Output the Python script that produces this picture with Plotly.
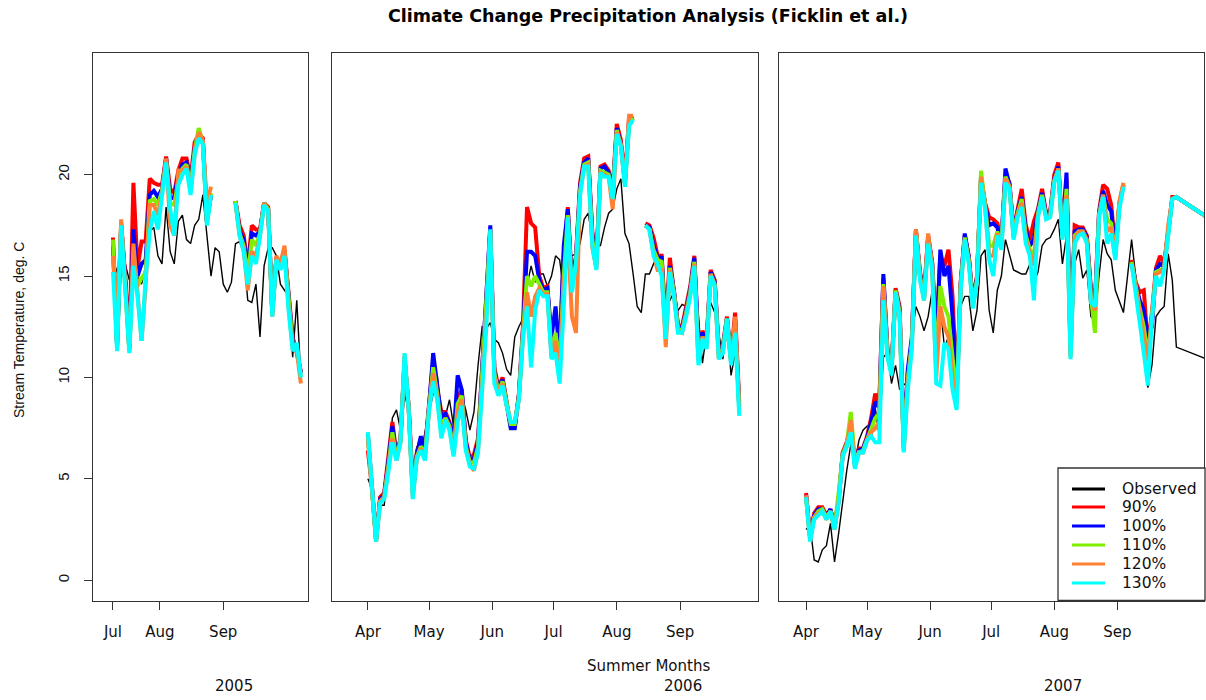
import pandas as pd
import plotly.graph_objects as go

# ---------------- data (2-day steps) ----------------
series_names = ["Observed", "90%", "100%", "110%", "120%", "130%"]
series_colors = ["#000000", "#FF0000", "#0000FF", "#7FEE00", "#FF8033", "#00FFFF"]

start_2005 = "2005-07-09"
start_2006 = "2006-04-01"
start_2007 = "2007-04-01"
tail_date_2007 = "2007-11-07"

obs_2005 = [15.8, 15.2, 15.0, 15.6, 14.8, 15.3, 15.0, 14.6, 15.5, 17.2, 17.4, 16.0, 15.6, 18.4, 16.2, 15.6,
            17.7, 18.0, 16.8, 16.6, 17.5, 17.8, 19.0, 17.1, 15.0, 16.4, 16.2, 14.6, 14.2, 14.7, 16.6, 16.7,
            16.1, 13.8, 13.7, 14.6, 12.0, 15.5, 16.4, 16.4, 16.0, 14.6, 14.3, 14.0, 11.0, 13.8, 10.0]
p90_2005 = [16.9, 11.6, 17.6, 15.0, 11.5, 19.6, 15.4, 16.7, 16.7, 19.8, 19.6, 19.5, 19.5, 20.9, 19.3, 19.1,
            20.2, 20.8, 20.8, 19.8, 21.6, 22.0, 21.8, 17.8, 19.0, None, None, None, None, None, 18.7, 17.5,
            17.0, 15.4, 17.5, 17.3, 17.3, 18.6, 18.4, 13.2, 15.9, 15.6, 16.3, 13.9, 12.0, 11.2, 10.3]
p100_2005 = [16.5, 11.5, 17.5, 14.8, 11.4, 17.3, 15.0, 15.6, 15.8, 19.0, 19.2, 18.9, 19.3, 20.8, 18.8, 18.9,
             20.0, 20.5, 20.6, 19.5, 21.3, 22.0, 21.7, 17.7, 19.0, None, None, None, None, None, 18.7, 17.2,
             16.8, 15.2, 17.1, 17.0, 17.2, 18.6, 18.3, 13.2, 15.9, 15.5, 16.2, 14.0, 11.8, 11.4, 10.2]
p110_2005 = [16.8, 11.5, 17.5, 14.7, 11.3, 16.0, 14.5, 14.9, 15.2, 18.7, 18.8, 18.5, 19.2, 20.7, 18.6, 18.5,
             19.8, 20.3, 20.5, 19.4, 21.2, 22.3, 21.6, 17.6, 19.1, None, None, None, None, None, 18.7, 17.1,
             16.5, 15.0, 16.8, 16.5, 17.1, 18.6, 18.3, 13.1, 15.8, 15.4, 16.2, 14.0, 11.6, 11.5, 10.1]
p120_2005 = [16.0, 12.5, 17.8, 14.6, 11.3, 16.6, 14.2, 11.8, 14.6, 18.5, 18.5, 18.0, 19.1, 20.8, 17.5, 17.0,
             20.2, 20.2, 20.4, 19.2, 21.0, 22.1, 21.7, 18.6, 19.4, None, None, None, None, None, 18.6, 17.0,
             16.3, 14.3, 16.2, 16.0, 17.0, 18.6, 18.2, 13.0, 16.0, 15.6, 16.5, 13.5, 11.4, 11.3, 9.7]
p130_2005 = [15.2, 11.3, 17.5, 14.5, 11.2, 15.5, 14.0, 11.8, 14.9, 17.2, 18.2, 17.3, 19.0, 20.6, 18.3, 17.0,
             19.5, 20.0, 20.3, 19.0, 21.0, 21.8, 21.5, 17.5, 19.0, None, None, None, None, None, 18.6, 17.0,
             16.2, 14.6, 16.0, 15.6, 17.0, 18.5, 18.2, 13.0, 15.8, 15.3, 16.0, 13.3, 11.3, 11.7, 10.0]

obs_2006 = [5.0, 4.5, 2.3, 3.7, 3.7, 5.6, 8.0, 8.4, 7.4, 9.2, 8.3, 5.3, 6.6, 6.3, 7.3, 8.3, 9.2, 10.1, 8.1, 8.1,
            8.9, 7.6, 8.1, 9.1, 8.4, 7.4, 8.3, 10.6, 12.5, 12.4, 12.7, 11.9, 11.7, 11.2, 10.4, 10.1, 12.0, 12.5,
            12.9, 14.5, 15.5, 14.7, 15.1, 15.1, 14.5, 15.0, 16.0, 15.8, 14.2, 16.1, 16.0, 16.1, 16.6, 17.8, 18.1,
            16.8, 16.5, 16.5, 17.4, 18.1, 18.3, 19.3, 19.8, 17.1, 16.6, 15.1, 13.5, 13.2, 15.1, 15.1, 15.6, 16.0,
            14.8, 13.7, 13.8, 14.2, 13.3, 13.6, 13.5, 14.3, 14.7, 13.0, 10.7, 12.2, 13.7, 13.2, 12.2, 10.9, 12.7,
            10.1, 11.2, 9.1]
p90_2006 = [6.4, 4.6, 2.0, 4.1, 4.3, 6.0, 7.8, 6.2, 7.0, 10.8, 8.6, 4.8, 6.3, 7.0, 6.5, 8.7, 10.8, 9.4, 8.3, 8.3,
            7.8, 6.8, 9.0, 9.4, 6.9, 6.0, 6.2, 7.0, 10.5, 14.5, 17.3, 10.5, 9.5, 10.0, 8.9, 7.6, 7.6, 9.2, 12.5,
            18.4, 17.6, 17.4, 15.0, 14.4, 14.5, 11.4, 12.0, 11.5, 16.0, 18.4, 14.6, 16.0, 19.6, 20.8, 20.9, 17.2,
            15.8, 20.4, 20.5, 20.2, 19.3, 22.5, 21.7, 19.8, 22.8, 22.9, None, None, 17.6, 17.5, 16.9, 16.0, 16.0,
            12.5, 15.9, 14.4, 12.6, 12.5, 13.4, 14.5, 16.0, 11.3, 12.3, 11.8, 15.3, 14.8, 11.3, 11.6, 13.0, 11.0,
            13.2, 8.8]
p100_2006 = [7.2, 4.6, 2.0, 4.0, 4.2, 5.8, 7.6, 6.1, 6.9, 10.9, 8.5, 4.4, 6.2, 7.1, 6.4, 8.6, 11.2, 9.6, 8.0, 8.2,
             7.7, 7.0, 10.1, 9.4, 6.8, 5.9, 6.0, 6.8, 10.2, 13.6, 17.5, 10.3, 9.4, 9.9, 8.8, 7.5, 7.5, 9.1, 12.3,
             16.2, 16.2, 16.0, 14.8, 14.3, 14.4, 12.0, 13.5, 11.0, 16.5, 18.3, 14.5, 15.9, 19.4, 20.6, 20.8, 17.0,
             15.6, 20.3, 20.4, 20.1, 19.1, 22.3, 21.5, 19.6, 22.6, 22.8, None, None, 17.5, 17.4, 16.5, 15.9, 15.9,
             12.3, 15.5, 14.3, 12.5, 12.4, 13.3, 14.3, 15.9, 11.8, 12.2, 11.7, 15.2, 14.7, 11.2, 11.5, 12.9, 10.9,
             12.8, 8.6]
p110_2006 = [7.1, 4.5, 1.9, 3.9, 4.1, 5.6, 7.3, 6.0, 6.9, 11.0, 8.5, 4.2, 6.1, 6.6, 6.2, 8.5, 10.5, 9.2, 7.5, 8.0,
             7.6, 6.4, 8.7, 9.1, 6.6, 5.8, 5.8, 6.6, 10.0, 13.0, 17.2, 10.2, 9.3, 9.8, 8.7, 7.7, 7.7, 9.0, 12.2,
             15.0, 14.5, 15.0, 14.6, 14.2, 14.2, 11.2, 12.2, 10.5, 15.0, 18.0, 14.3, 15.7, 19.2, 20.5, 20.6, 16.8,
             15.5, 20.2, 20.1, 20.0, 19.0, 22.2, 21.4, 19.5, 22.5, 22.8, None, None, 17.5, 17.3, 16.3, 15.8, 15.7,
             12.0, 15.4, 14.2, 12.4, 12.3, 13.2, 14.2, 15.7, 11.0, 12.0, 11.6, 15.1, 14.6, 11.0, 11.4, 12.9, 10.8,
             12.6, 8.5]
p120_2006 = [7.0, 4.5, 1.9, 3.9, 4.1, 5.5, 7.0, 5.9, 6.8, 11.1, 8.4, 4.1, 6.0, 6.5, 6.0, 8.4, 10.2, 9.0, 7.2, 7.9,
             7.5, 6.2, 8.3, 8.9, 6.5, 5.7, 5.4, 6.4, 9.8, 12.8, 17.2, 10.0, 9.2, 9.7, 8.6, 7.8, 7.8, 8.9, 12.0,
             14.2, 13.0, 14.0, 14.4, 14.1, 14.1, 11.0, 11.8, 10.3, 14.5, 17.0, 13.0, 12.2, 19.1, 20.4, 20.5, 16.4,
             15.4, 20.1, 20.0, 19.9, 18.3, 22.1, 21.5, 19.5, 22.9, 22.9, None, None, 17.5, 17.3, 16.1, 15.3, 15.3,
             11.5, 15.3, 14.1, 12.3, 12.2, 13.1, 14.1, 15.6, 10.8, 12.0, 11.5, 15.1, 14.5, 10.9, 11.3, 12.7, 10.7,
             13.0, 8.4]
p130_2006 = [7.3, 4.5, 1.9, 3.8, 4.0, 5.3, 6.8, 5.9, 6.8, 11.2, 8.4, 4.0, 6.0, 6.4, 5.9, 8.4, 9.8, 8.9, 7.0, 7.9,
             7.4, 6.1, 7.8, 8.6, 6.4, 5.6, 5.5, 6.3, 9.6, 12.4, 17.3, 9.7, 9.1, 9.6, 8.6, 7.8, 7.8, 8.9, 11.9,
             13.5, 10.5, 13.3, 14.3, 14.0, 14.0, 10.9, 11.2, 9.7, 13.5, 17.9, 14.2, 15.6, 19.0, 20.4, 20.4, 16.5,
             15.3, 20.1, 19.9, 19.9, 18.8, 22.0, 21.4, 19.4, 22.4, 22.7, None, None, 17.5, 17.3, 16.0, 15.6, 15.0,
             11.9, 15.2, 14.0, 12.2, 12.2, 13.0, 14.0, 15.5, 10.6, 11.9, 11.4, 15.0, 14.5, 10.9, 11.2, 12.9, 10.6,
             12.2, 8.1]

obs_2007 = [2.5, 2.7, 1.0, 0.9, 1.5, 1.7, 2.8, 0.9, 2.3, 4.0, 5.4, 6.7, 5.8, 6.9, 7.4, 7.6, 7.0, 8.5, 7.1, 11.0,
            11.2, 9.7, 10.6, 9.4, 9.7, 9.5, 12.0, 13.5, 13.0, 12.3, 13.0, 14.3, 13.1, 13.5, 11.5, 12.0, 12.7, 10.7,
            13.5, 14.0, 14.0, 12.3, 13.3, 16.0, 16.3, 13.3, 12.2, 14.3, 15.0, 16.8, 16.1, 15.3, 15.2, 15.1, 15.1,
            15.6, 14.7, 15.2, 16.5, 16.8, 16.9, 17.3, 17.8, 15.6, 17.0, 15.3, 15.6, 16.3, 14.9, 15.3, 13.0, 12.8,
            15.0, 16.8, 16.1, 15.8, 14.3, 13.7, 13.2, 15.0, 16.8, 15.0, 13.0, 11.5, 9.5, 10.6, 13.0, 13.3, 13.5,
            16.1, 14.8, 11.5, 10.0]
p90_2007 = [4.3, 2.2, 3.3, 3.6, 3.6, 3.2, 3.5, 2.7, 4.0, 6.3, 6.8, 7.6, 5.8, 6.5, 6.5, 7.1, 8.0, 9.2, 8.7, 14.9,
            11.4, 10.5, 14.4, 13.5, 6.8, 10.2, 11.8, 17.3, 15.2, 14.2, 17.0, 15.7, 12.0, 16.0, 15.5, 16.3, 14.0, 9.5,
            14.7, 17.0, 16.0, 13.8, 15.0, 19.8, 18.6, 17.9, 17.8, 17.6, 16.8, 19.9, 19.6, 17.2, 18.3, 19.3, 17.5,
            16.8, 17.7, 18.3, 19.3, 18.1, 18.2, 20.0, 20.6, 17.2, 19.8, 11.5, 17.5, 17.4, 17.4, 17.0, 14.4, 13.8,
            18.2, 19.5, 19.3, 18.5, 16.3, 18.6, 19.5, None, 15.8, 14.7, 14.2, 14.3, 11.5, 13.2, 15.4, 16.0, 15.6,
            17.2, 18.9, 18.9, 16.4]
p100_2007 = [4.2, 2.1, 3.2, 3.5, 3.5, 3.1, 3.5, 2.6, 3.9, 6.2, 6.7, 7.7, 5.7, 6.4, 6.5, 7.0, 7.8, 8.8, 8.5, 15.1,
             11.3, 10.4, 14.3, 13.3, 6.6, 10.4, 12.0, 17.2, 15.1, 14.0, 16.9, 15.6, 11.5, 16.3, 15.0, 15.5, 13.0, 9.2,
             14.6, 17.1, 15.9, 13.7, 14.9, 19.9, 18.5, 17.5, 17.6, 17.4, 16.6, 20.3, 19.5, 17.1, 18.2, 18.9, 17.3,
             16.5, 16.8, 18.2, 19.1, 18.0, 18.1, 19.8, 20.4, 17.0, 20.1, 11.3, 17.2, 17.3, 17.3, 16.9, 14.2, 13.6,
             18.1, 19.2, 18.5, 18.2, 16.1, 18.5, 19.5, None, 15.7, 14.6, 13.8, 13.3, 12.0, 12.5, 15.3, 15.6, 15.5,
             17.1, 18.8, 18.9, 16.4]
p110_2007 = [4.1, 2.0, 3.1, 3.4, 3.5, 3.1, 3.4, 2.6, 4.3, 6.2, 6.7, 8.3, 5.9, 6.3, 6.4, 6.9, 7.5, 8.0, 8.2, 14.6,
             11.2, 10.3, 14.3, 13.2, 6.5, 9.9, 11.7, 17.2, 15.0, 13.9, 16.8, 15.5, 10.5, 14.5, 13.5, 13.0, 11.0, 9.0,
             14.5, 16.9, 15.8, 13.6, 14.8, 20.2, 18.5, 16.5, 16.5, 17.2, 16.5, 19.9, 19.4, 17.0, 18.1, 18.8, 17.0,
             16.3, 16.0, 18.1, 19.0, 17.9, 18.0, 19.7, 20.3, 16.9, 19.3, 11.1, 17.0, 17.2, 17.2, 16.8, 14.0, 12.2,
             18.0, 19.0, 17.8, 17.6, 16.0, 18.6, 19.5, None, 15.7, 14.5, 13.4, 12.5, 11.0, 13.0, 15.2, 15.3, 15.4,
             17.1, 18.8, 18.9, 16.4]
p120_2007 = [4.2, 2.0, 3.1, 3.3, 3.4, 3.0, 3.4, 2.5, 3.9, 6.1, 6.6, 7.9, 5.6, 6.3, 6.3, 6.9, 7.3, 7.5, 7.8, 14.5,
             11.1, 10.2, 14.2, 13.1, 6.4, 9.7, 11.6, 17.3, 14.9, 13.8, 17.1, 15.4, 10.0, 13.5, 12.5, 12.0, 10.0, 8.7,
             14.4, 16.8, 15.7, 13.5, 14.7, 19.9, 18.4, 16.0, 16.0, 17.1, 16.4, 19.8, 19.4, 16.9, 18.0, 18.6, 16.8,
             16.1, 15.5, 18.0, 18.9, 17.9, 18.0, 19.7, 20.3, 16.9, 19.0, 11.0, 16.8, 17.2, 17.2, 16.7, 13.9, 13.3,
             18.0, 19.0, 17.2, 17.4, 15.9, 18.7, 19.6, None, 15.6, 14.4, 13.2, 12.0, 10.8, 12.9, 15.1, 15.2, 15.4,
             17.5, 18.8, 18.9, 16.4]
p130_2007 = [4.1, 1.9, 3.0, 3.2, 3.4, 3.0, 3.4, 2.5, 3.8, 6.1, 6.6, 7.3, 5.5, 6.3, 6.3, 6.9, 7.1, 6.8, 6.8, 13.8,
             11.0, 10.1, 14.2, 13.0, 6.3, 9.4, 11.4, 17.0, 14.8, 13.8, 16.6, 15.3, 9.7, 9.6, 11.7, 11.4, 9.4, 8.4,
             14.3, 16.8, 15.6, 13.4, 14.7, 19.6, 18.3, 15.8, 15.0, 17.0, 16.3, 19.6, 19.3, 16.8, 17.9, 18.4, 16.6,
             16.0, 13.8, 17.9, 18.9, 17.8, 17.9, 19.6, 20.2, 16.8, 18.8, 10.9, 16.6, 17.0, 17.1, 16.6, 13.7, 13.5,
             17.9, 18.9, 16.6, 17.1, 15.8, 18.3, 19.4, None, 15.6, 14.3, 12.7, 11.2, 9.6, 12.9, 15.0, 14.5, 15.3,
             17.0, 18.8, 18.9, 16.4]

y_ticks = [0, 5, 10, 15, 20]
x_ticks_2005 = ["2005-07-09", "2005-08-01", "2005-09-01"]
x_labels_2005 = ["Jul", "Aug", "Sep"]
x_ticks_2006 = ["2006-04-01", "2006-05-01", "2006-06-01", "2006-07-01", "2006-08-01", "2006-09-01"]
x_labels_2006 = ["Apr", "May", "Jun", "Jul", "Aug", "Sep"]
x_ticks_2007 = ["2007-04-01", "2007-05-01", "2007-06-01", "2007-07-01", "2007-08-01", "2007-09-01"]
x_labels_2007 = ["Apr", "May", "Jun", "Jul", "Aug", "Sep"]
x_range_2005 = ["2005-06-29 05:00", "2005-10-12 12:00"]
x_range_2006 = ["2006-03-14 10:00", "2006-10-09 05:00"]
x_range_2007 = ["2007-03-18 17:00", "2007-10-13 14:00"]
year_labels = ["2005", "2006", "2007"]

# ---------------- figure ----------------
W, H = 1206, 700
FONT = "Liberation Sans, Arial, Helvetica, sans-serif"
WIDE = "DejaVu Sans, Verdana, sans-serif"


def px(x):
    return x / W


def py(y):
    return 1 - y / H


dates_2005 = pd.date_range(start_2005, periods=len(obs_2005), freq="2D")
dates_2006 = pd.date_range(start_2006, periods=len(obs_2006), freq="2D")
dates_2007 = pd.date_range(start_2007, periods=len(obs_2007) - 1, freq="2D").append(
    pd.DatetimeIndex([tail_date_2007]))

panels = [
    (dates_2005, [obs_2005, p90_2005, p100_2005, p110_2005, p120_2005, p130_2005],
     x_ticks_2005, x_labels_2005, x_range_2005, (93, 308)),
    (dates_2006, [obs_2006, p90_2006, p100_2006, p110_2006, p120_2006, p130_2006],
     x_ticks_2006, x_labels_2006, x_range_2006, (332, 758)),
    (dates_2007, [obs_2007, p90_2007, p100_2007, p110_2007, p120_2007, p130_2007],
     x_ticks_2007, x_labels_2007, x_range_2007, (779, 1204)),
]

fig = go.Figure()
layout = {}
y_dom = [py(600.5), py(53)]

for i, (dates, series, tv, tt, xr, (l, r)) in enumerate(panels):
    k = "" if i == 0 else str(i + 1)
    for name, color, vals in zip(series_names, series_colors, series):
        fig.add_trace(go.Scatter(
            x=dates, y=vals, mode="lines", name=name,
            line=dict(color=color, width=1.4 if name == "Observed" else 4),
            xaxis="x" + k, yaxis="y" + k, showlegend=False, connectgaps=False,
            hoverinfo="skip"))
    layout["xaxis" + k] = dict(
        type="date", domain=[px(l), px(r)], range=xr, anchor="y" + k,
        tickmode="array", tickvals=tv, ticktext=tt, ticks="outside", ticklen=8,
        tickwidth=1, tickcolor="#333", showgrid=False, zeroline=False,
        showline=True, mirror=True, linecolor="#333", linewidth=1.3,
        tickfont=dict(family=WIDE, size=15, color="#111"), ticklabelstandoff=9)
    ydict = dict(domain=y_dom, range=[-1, 26], anchor="x" + k, showgrid=False, zeroline=False,
                 showline=True, mirror=True, linecolor="#333", linewidth=1.3)
    if i == 0:
        ydict.update(tickmode="array", tickvals=y_ticks, ticks="outside", ticklen=8, tickwidth=1,
                     tickcolor="#333", tickangle=-90, ticklabelstandoff=9,
                     tickfont=dict(family=FONT, size=15, color="#111"))
    else:
        ydict.update(showticklabels=False, ticks="")
    layout["yaxis" + k] = ydict

annotations = [
    dict(text="<b>Climate Change Precipitation Analysis (Ficklin et al.)</b>", x=px(648), y=py(16),
         font=dict(family=WIDE, size=17.5, color="#000")),
    dict(text="Stream Temperature, deg. C", x=px(19), y=py(330), textangle=-90,
         font=dict(family=FONT, size=14, color="#111")),
    dict(text="Summer Months", x=px(648), y=py(666), font=dict(family=WIDE, size=15, color="#111")),
]
for label, xc in zip(year_labels, [234, 683, 1063]):
    annotations.append(dict(text=label, x=px(xc), y=py(686), font=dict(family=WIDE, size=15, color="#111")))

shapes = [dict(type="rect", xref="paper", yref="paper", x0=px(1058), x1=px(1205), y0=py(600.5), y1=py(468),
               line=dict(color="#333", width=1.3), fillcolor="white", layer="above")]
row_y = [489, 507, 526, 545, 564, 583]
for name, color, ry in zip(series_names, series_colors, row_y):
    shapes.append(dict(type="line", xref="paper", yref="paper", x0=px(1072), x1=px(1105), y0=py(ry), y1=py(ry),
                       line=dict(color=color, width=3), layer="above"))
    annotations.append(dict(text=name, x=px(1120), y=py(ry), xanchor="left",
                            font=dict(family=WIDE, size=15.5, color="#111")))

for a in annotations:
    a.update(xref="paper", yref="paper", showarrow=False)
    a.setdefault("xanchor", "center")
    a.setdefault("yanchor", "middle")

fig.update_layout(width=W, height=H, margin=dict(l=0, r=0, t=0, b=0), paper_bgcolor="white",
                  plot_bgcolor="white", annotations=annotations, shapes=shapes, **layout)

fig.write_html("out.html")
